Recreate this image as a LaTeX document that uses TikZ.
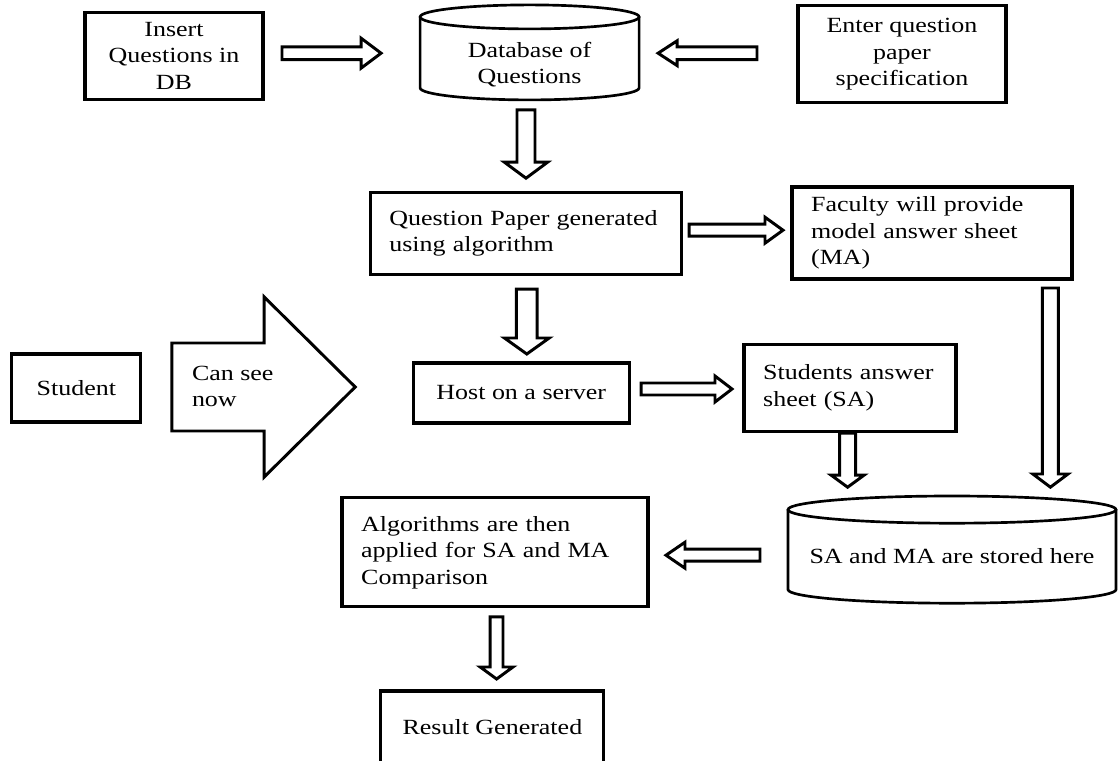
\documentclass[tikz,border=0pt]{standalone}
\usepackage{fontspec}
\setmainfont{Liberation Serif}[FakeStretch=1.2]
\usetikzlibrary{calc}

\begin{document}
\begin{tikzpicture}[
  every node/.style={font=\fontsize{15.4pt}{18.8pt}\selectfont, inner sep=0pt, outer sep=0pt},
  box/.style={draw, line width=2.2pt, align=center},
  lbox/.style={box, align=left, text width=#1},
  tank/.style={line width=1.9pt},
  shaft/.store in=\shaftw, barb/.store in=\barbw, headlen/.store in=\headl,
  blk/.style args={#1/#2/#3}{draw, line width=2.1pt, line join=miter, shaft=#1, barb=#2, headlen=#3},
  goright/.style={to path={let \p1=(\tikztostart), \p2=(\tikztotarget) in
    (\x1,\y1+\shaftw) -- (\x2-\headl,\y1+\shaftw) -- (\x2-\headl,\y1+\barbw) -- (\x2,\y1)
    -- (\x2-\headl,\y1-\barbw) -- (\x2-\headl,\y1-\shaftw) -- (\x1,\y1-\shaftw) -- cycle}},
  goleft/.style={to path={let \p1=(\tikztostart), \p2=(\tikztotarget) in
    (\x1,\y1+\shaftw) -- (\x2+\headl,\y1+\shaftw) -- (\x2+\headl,\y1+\barbw) -- (\x2,\y1)
    -- (\x2+\headl,\y1-\barbw) -- (\x2+\headl,\y1-\shaftw) -- (\x1,\y1-\shaftw) -- cycle}},
  godown/.style={to path={let \p1=(\tikztostart), \p2=(\tikztotarget) in
    (\x1-\shaftw,\y1) -- (\x1-\shaftw,\y2+\headl) -- (\x1-\barbw,\y2+\headl) -- (\x1,\y2)
    -- (\x1+\barbw,\y2+\headl) -- (\x1+\shaftw,\y2+\headl) -- (\x1+\shaftw,\y1) -- cycle}}]
  \useasboundingbox (0,0) rectangle (28,-19.025);
  \clip (0,0) rectangle (28,-19.025);
  \node[box, minimum width=4.45cm, minimum height=2.175cm] (ins) at (4.35, -1.39) {Insert\\Questions in\\DB};
  \node[align=center, minimum width=5.475cm, minimum height=1.775cm] (db) at (13.24, -1.61) {Database of\\Questions};
  \node[box, minimum width=5.2cm, minimum height=2.425cm] (spec) at (22.55, -1.36) {Enter question\\paper\\specification};
  \node[lbox=6.815cm, minimum width=7.775cm, minimum height=2.05cm] (qp) at (13.14, -5.83) {Question Paper generated\\using algorithm};
  \node[lbox=6.04cm, minimum width=7cm, minimum height=2.3cm] (ma) at (23.30, -5.825) {Faculty will provide\\model answer sheet\\(MA)};
  \node[box, minimum width=3.225cm, minimum height=1.7cm] (student) at (1.91, -9.70) {Student};
  \node[align=left, anchor=west] (cansee) at (4.80, -9.66) {Can see\\now};
  \node[box, minimum width=5.4cm, minimum height=1.5cm] (host) at (13.03, -9.825) {Host on a server};
  \node[lbox=4.34cm, minimum width=5.3cm, minimum height=2.175cm] (sa) at (21.25, -9.69) {Students answer\\sheet (SA)};
  \node[minimum width=8.2cm, minimum height=2.34cm] (store) at (23.80, -13.91) {SA and MA are stored here};
  \node[lbox=6.69cm, minimum width=7.65cm, minimum height=2.725cm] (algo) at (12.375, -13.81) {Algorithms are then\\applied for SA and MA\\Comparison};
  \node[box, minimum width=5.575cm, minimum height=1.8cm] (result) at (12.31, -18.175) {Result Generated};
  \draw[tank] ([yshift=0.3cm]db.north) ellipse [x radius=2.7375cm, y radius=0.3cm];
  \draw[tank] ([yshift=0.3cm]db.north west) -- ([yshift=0.3cm]db.south west) arc [start angle=180, end angle=360, x radius=2.7375cm, y radius=0.3cm] -- ([yshift=0.3cm]db.north east);
  \draw[tank] (store.north) ellipse [x radius=4.1cm, y radius=0.34cm];
  \draw[tank] (store.north west) -- ([yshift=0.34cm]store.south west) arc [start angle=180, end angle=360, x radius=4.1cm, y radius=0.34cm] -- (store.north east);
  \draw[blk=0.16cm/0.375cm/0.5cm, goright] ([xshift=0.475cm, yshift=0.06cm]ins.east) to ([xshift=-0.975cm]db.west);
  \draw[blk=0.16cm/0.31cm/0.475cm, goleft] ([xshift=-1.025cm, yshift=0.03cm]spec.west) to ([xshift=0.475cm]db.east);
  \draw[blk=0.225cm/0.54cm/0.4cm, godown] ([xshift=-0.09cm, yshift=-0.25cm]db.south) to ([yshift=0.35cm]qp.north);
  \draw[blk=0.15cm/0.325cm/0.45cm, goright] ([xshift=0.2cm, yshift=0.075cm]qp.east) to ([xshift=-0.225cm]ma.west);
  \draw[blk=0.26cm/0.56cm/0.4cm, godown] ([xshift=0.03cm, yshift=-0.375cm]qp.south) to ([yshift=0.225cm]host.north);
  \draw[blk=1.1cm/2.25cm/2.275cm, goright] ([xshift=0.775cm, yshift=0.025cm]student.east) to ([xshift=-1.45cm]host.west);
  \draw[blk=0.15cm/0.325cm/0.425cm, goright] ([xshift=0.3cm, yshift=0.1cm]host.east) to ([xshift=-0.3cm]sa.west);
  \draw[blk=0.2cm/0.41cm/0.3cm, godown] ([xshift=-0.06cm, yshift=-0.05cm]sa.south) to ([yshift=0.56cm]store.north);
  \draw[blk=0.2cm/0.44cm/0.33cm, godown] ([xshift=-0.54cm, yshift=-0.225cm]ma.south east) to ([yshift=0.56cm]store.north);
  \draw[blk=0.15cm/0.325cm/0.475cm, goleft] ([xshift=-0.7cm, yshift=0.03cm]store.west) to ([xshift=0.45cm]algo.east);
  \draw[blk=0.16cm/0.41cm/0.3cm, godown] ([xshift=0.04cm, yshift=-0.25cm]algo.south) to ([yshift=0.3cm]result.north);
\end{tikzpicture}
\end{document}
